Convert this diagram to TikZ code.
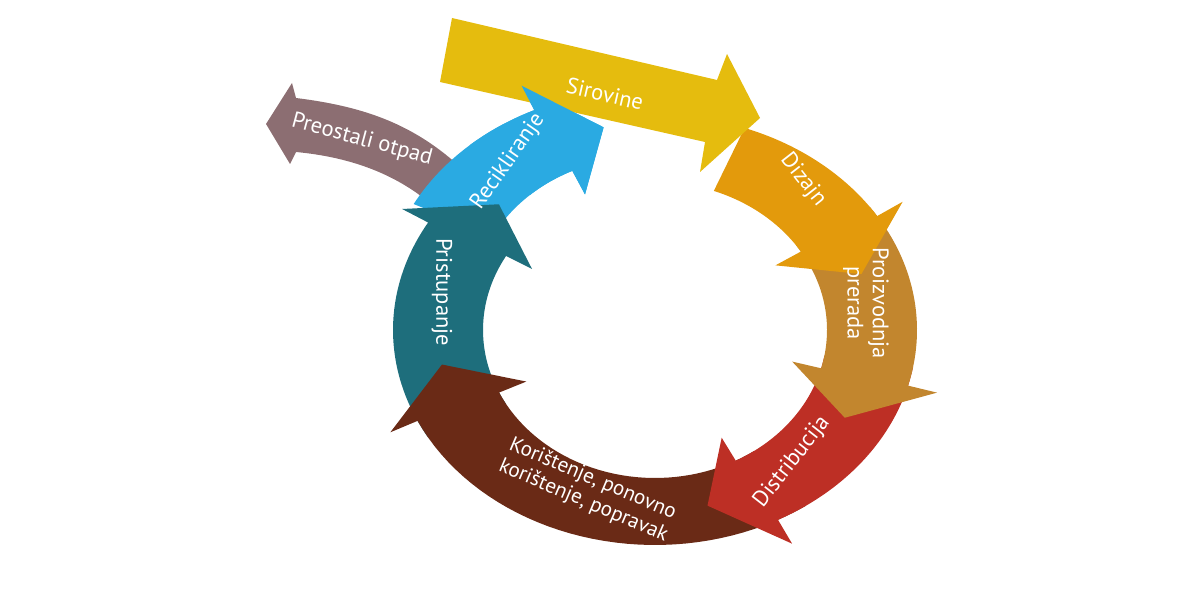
\documentclass[tikz,border=0pt]{standalone}
\usepackage{fontspec}
\setmainfont{PT Sans}
\definecolor{csir}{HTML}{E5BC0E}
\definecolor{cdiz}{HTML}{E39A0C}
\definecolor{cpro}{HTML}{C2862E}
\definecolor{cdis}{HTML}{BD2F25}
\definecolor{ckor}{HTML}{6A2A16}
\definecolor{cpri}{HTML}{1E6E7C}
\definecolor{crec}{HTML}{2AAAE2}
\definecolor{cotp}{HTML}{8C6E72}
\newcommand{\ringarrowc}[6]{%
\fill[#1] plot[domain=#2:#3,samples=40] ({#5+262*cos(\x)},{#6+215*sin(\x)})
 -- ({#5+292*cos(#3)},{#6+242*sin(#3)})
 -- ({#5+217*cos(#3+#4)},{#6+181*sin(#3+#4)})
 -- ({#5+142*cos(#3)},{#6+122*sin(#3)})
 -- plot[domain=#3:#2,samples=40] ({#5+172*cos(\x)},{#6+148*sin(\x)}) -- cycle;}
\newcommand{\ringarrow}[4]{\ringarrowc{#1}{#2}{#3}{#4}{655}{330}}
\begin{document}
\begin{tikzpicture}[x=0.025cm,y=-0.025cm,
 lab/.style={text=white,font=\fontsize{16}{18}\selectfont,align=center,inner sep=0pt}]
\useasboundingbox (0,0) rectangle (1200,596);
% Preostali otpad
\fill[cotp] (458,165) .. controls (410,122) and (360,106) .. (296,98)
 -- (292,83) -- (266,124) -- (290,164) -- (296,152)
 .. controls (360,158) and (410,180) .. (448,220) -- cycle;
\ringarrowc{crec}{208}{245}{14}{645}{305}
\ringarrow{cpri}{150}{210}{14}
\ringarrow{ckor}{55}{155}{14}
\ringarrow{cdis}{10}{62}{14}
\ringarrow{cpro}{-35}{15}{14}
\ringarrow{cdiz}{-70}{-32}{14}
% Sirovine
\fill[csir] (452,18) -- (717,80) -- (727,54) -- (760,118) -- (700,172) -- (705,142) -- (440,82) -- cycle;
\ringarrowc{crec}{228}{245}{14}{645}{305}
\node[lab] (sir) at (605,94) [rotate=-13] {Sirovine};
\node[lab] (diz) at (803,180) [rotate=-52] {Dizajn};
\node[lab] (pro) at (866,303) [rotate=-90] {Proizvodnja\\prerada};
\node[lab] (dis) at (792,462) [rotate=52] {Distribucija};
\node[lab,font=\fontsize{15}{17}\selectfont] (kor) at (588,490) [rotate=-23] {Korištenje, ponovno\\korištenje, popravak};
\node[lab] (pri) at (442,292) [rotate=-90] {Pristupanje};
\node[lab] (rec) at (508,162) [rotate=55] {Recikliranje};
\node[lab] (otp) at (362,140) [rotate=-15] {Preostali otpad};
\end{tikzpicture}
\end{document}
